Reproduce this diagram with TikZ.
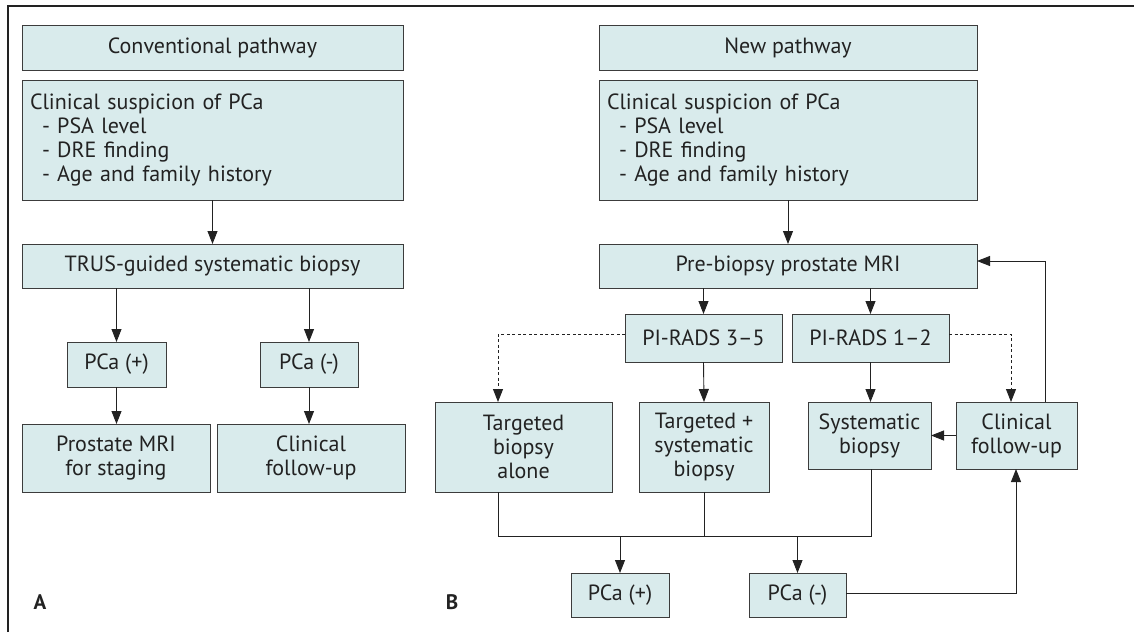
\documentclass[tikz,border=0pt]{standalone}
\usepackage{fontspec}
\setmainfont{PT Sans}
\usetikzlibrary{arrows.meta}
\definecolor{boxfill}{HTML}{D9EBEC}
\definecolor{boxline}{HTML}{3C3C3C}
\definecolor{lnk}{HTML}{222222}
\newcommand{\itm}[1]{\hspace*{12pt}-\ #1}
\begin{document}
\begin{tikzpicture}[x=1pt,y=-1pt,
  box/.style={draw=boxline,fill=boxfill,line width=1pt,inner sep=0pt,outer sep=0pt,align=center,
    font=\fontsize{22}{24}\selectfont,text=lnk,anchor=north west},
  conn/.style={draw=lnk,line width=0.9pt,-{Triangle[length=13pt,width=10pt]}},
  plain/.style={draw=lnk,line width=0.9pt},
  dsh/.style={conn,dash pattern=on 3pt off 2.5pt},
  lab/.style={font=\fontsize{21}{24}\selectfont\bfseries,text=lnk}]
\useasboundingbox (0,0) rectangle (1134,632);
\draw[line width=2pt,draw=lnk] (8,632) -- (8,6) -- (1134,6);
% left panel
\node[box,minimum width=381pt,minimum height=45pt] (cp) at (22,25) {Conventional pathway};
\node[box,minimum width=381pt,minimum height=120pt,align=left,text width=365pt] (cs1) at (22,80)
  {Clinical suspicion of PCa\\\itm{PSA level}\\\itm{DRE finding}\\\itm{Age and family history}};
\node[box,minimum width=381pt,minimum height=44pt] (trus) at (22,244) {TRUS-guided systematic biopsy};
\node[box,minimum width=99pt,minimum height=45pt] (pp1) at (67,342) {PCa (+)};
\node[box,minimum width=98pt,minimum height=45pt] (pm1) at (260,342) {PCa (-)};
\node[box,minimum width=188pt,minimum height=68pt] (mri) at (22,424) {Prostate MRI\\for staging};
\node[box,minimum width=188pt,minimum height=68pt] (cf1) at (217,424) {Clinical\\follow-up};
\node[lab] (la) at (40,602) {A};
\node[lab] (lb) at (452,602) {B};
\draw[conn] (cs1.south) -- (trus.north);
\draw[conn] (trus.south -| pp1.north) -- (pp1.north);
\draw[conn] (trus.south -| pm1.north) -- (pm1.north);
\draw[conn] (pp1.south) -- (mri.north -| pp1.south);
\draw[conn] (pm1.south) -- (cf1.north -| pm1.south);
% right panel
\node[box,minimum width=378pt,minimum height=45pt] (np) at (599,25) {New pathway};
\node[box,minimum width=378pt,minimum height=120pt,align=left,text width=362pt] (cs2) at (599,80)
  {Clinical suspicion of PCa\\\itm{PSA level}\\\itm{DRE finding}\\\itm{Age and family history}};
\node[box,minimum width=378pt,minimum height=44pt] (pre) at (599,244) {Pre-biopsy prostate MRI};
\node[box,minimum width=157pt,minimum height=48pt] (p35) at (625,314) {PI-RADS 3–5};
\node[box,minimum width=157pt,minimum height=48pt] (p12) at (792,314) {PI-RADS 1–2};
\node[box,minimum width=177pt,minimum height=90pt] (tba) at (435,402) {Targeted\\biopsy\\alone};
\node[box,minimum width=130pt,minimum height=90pt] (tsb) at (639,402) {Targeted +\\systematic\\biopsy};
\node[box,minimum width=123pt,minimum height=67pt] (sb) at (808,402) {Systematic\\biopsy};
\node[box,minimum width=121pt,minimum height=67pt] (cf2) at (956,402) {Clinical\\follow-up};
\node[box,minimum width=98pt,minimum height=44pt] (pp2) at (571,573) {PCa (+)};
\node[box,minimum width=97pt,minimum height=44pt] (pm2) at (749,573) {PCa (-)};
\coordinate (b1) at (498,536);
\coordinate (b2) at (871,536);
\coordinate (d1) at (498,334);
\coordinate (d2) at (1011,334);
\coordinate (r1) at (1045,261);
\coordinate (r2) at (1016,593);
\draw[conn] (cs2.south) -- (pre.north);
\draw[conn] (pre.south -| p35.north) -- (p35.north);
\draw[conn] (pre.south -| p12.north) -- (p12.north);
\draw[conn] (p35.south) -- (tsb.north);
\draw[conn] (p12.south) -- (sb.north -| p12.south);
\draw[dsh] (p35.west |- d1) -- (d1) -- (tba.north -| d1);
\draw[dsh] (p12.east |- d2) -- (d2) -- (cf2.north -| d2);
\draw[conn] (cf2.west) -- (sb.east |- cf2.west);
\draw[conn] (cf2.north -| r1) -- (r1) -- (pre.east |- r1);
\draw[conn] (pm2.east |- r2) -- (r2) -- (cf2.south -| r2);
\draw[plain] (tba.south -| b1) -- (b1) -- (b2) -- (sb.south -| b2);
\draw[plain] (tsb.south) -- (tsb.south |- b1);
\draw[conn] (b1 -| pp2.north) -- (pp2.north);
\draw[conn] (b1 -| pm2.north) -- (pm2.north);
\end{tikzpicture}
\end{document}
